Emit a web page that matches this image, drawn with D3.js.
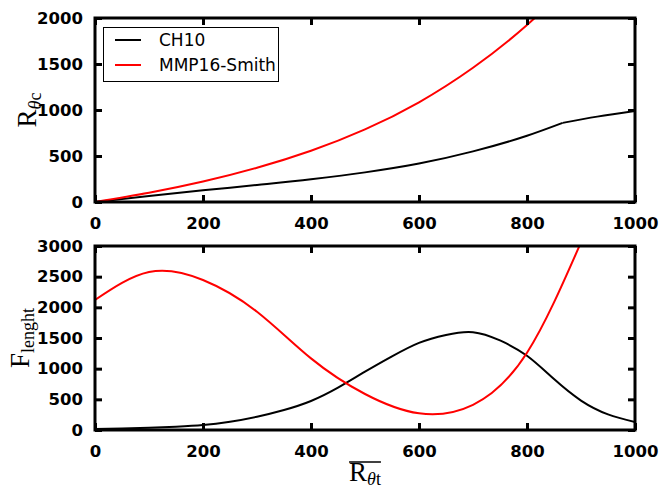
<!DOCTYPE html>
<html><head><meta charset="utf-8">
<script src="https://cdn.jsdelivr.net/npm/d3@7"></script>
<style>body{margin:0;background:#fff}svg{display:block}</style>
</head><body>
<script>
// ---- data ----
const xTicks = [0, 200, 400, 600, 800, 1000];
const topYTicks = [0, 500, 1000, 1500, 2000];
const botYTicks = [0, 500, 1000, 1500, 2000, 2500, 3000];
const seriesNames = ["CH10", "MMP16-Smith"];
const seriesColors = ["#000000", "#ff0000"];

// top panel: CH10 has a kink at x = 866 (index 9)
const topCH10X = [0, 100, 200, 300, 400, 500, 600, 700, 800, 866, 930, 1000];
const topCH10Y = [0, 65, 127, 185, 247, 322, 418, 550, 720, 860, 928, 990];
const topCH10Kink = 9;
const topMMPX = [0, 100, 200, 300, 400, 500, 600, 700, 800, 900];
const topMMPY = [0, 100, 222, 372, 557, 789, 1084, 1459, 1924, 2484];

const botCH10X = [0, 50, 100, 150, 200, 250, 300, 350, 400, 450, 500, 550, 600, 650, 700, 750, 800, 850, 900, 950, 1000];
const botCH10Y = [15, 25, 38, 55, 80, 135, 217, 326, 473, 690, 950, 1200, 1420, 1550, 1595, 1460, 1210, 830, 480, 255, 130];
const botMMPX = [0, 100, 200, 300, 400, 500, 600, 700, 800, 900];
const botMMPY = [2120, 2575, 2446, 1929, 1168, 587, 272, 410, 1260, 3060];

// ---- layout ----
const W = 662, H = 489;
const L = 95, R = 635;
const svg = d3.select("body").append("svg").attr("width", W).attr("height", H);

function panel(top, bottom, yMax, yTicks, series, id) {
  const x = d3.scaleLinear().domain([0, 1000]).range([L, R]);
  const y = d3.scaleLinear().domain([0, yMax]).range([bottom, top]);
  const g = svg.append("g");
  g.append("clipPath").attr("id", id).append("rect")
    .attr("x", L).attr("y", top).attr("width", R - L).attr("height", bottom - top);
  series.forEach(s => {
    const line = d3.line().x(d => x(d[0])).y(d => y(d[1])).curve(s.curve);
    s.parts.forEach(p => {
      g.append("path").attr("d", line(p)).attr("fill", "none")
        .attr("stroke", s.color).attr("stroke-width", 2)
        .attr("stroke-linejoin", "round")
        .attr("clip-path", `url(#${id})`);
    });
  });
  const tl = 7;
  const axB = d3.axisBottom(x).tickValues(xTicks).tickSize(-tl).tickPadding(8 + tl).tickFormat(d3.format("d"));
  const axT = d3.axisTop(x).tickValues(xTicks).tickSize(-tl).tickFormat("");
  const axL = d3.axisLeft(y).tickValues(yTicks).tickSize(-tl).tickPadding(5 + tl).tickFormat(d3.format("d"));
  const axR = d3.axisRight(y).tickValues(yTicks).tickSize(-tl).tickFormat("");
  [[axB, `translate(0,${bottom})`], [axT, `translate(0,${top})`], [axL, `translate(${L},0)`], [axR, `translate(${R},0)`]].forEach(([a, t]) => {
    const ag = g.append("g").attr("transform", t).call(a);
    ag.select(".domain").remove();
    ag.selectAll(".tick line").attr("stroke", "#000").attr("stroke-width", 3);
    ag.selectAll(".tick text").attr("font-family", "DejaVu Sans").attr("font-weight", "bold")
      .attr("font-size", 16.5).attr("fill", "#000");
  });
  g.append("rect").attr("x", L).attr("y", top).attr("width", R - L).attr("height", bottom - top)
    .attr("fill", "none").attr("stroke", "#000").attr("stroke-width", 3);
}

const zip = (a, b) => a.map((v, i) => [v, b[i]]);
const topCH10 = zip(topCH10X, topCH10Y);
panel(18, 202, 2000, topYTicks, [
  {color: seriesColors[0], curve: d3.curveMonotoneX,
   parts: [topCH10.slice(0, topCH10Kink + 1), topCH10.slice(topCH10Kink)]},
  {color: seriesColors[1], curve: d3.curveNatural, parts: [zip(topMMPX, topMMPY)]}
], "c1");
panel(246, 430, 3000, botYTicks, [
  {color: seriesColors[0], curve: d3.curveNatural, parts: [zip(botCH10X, botCH10Y)]},
  {color: seriesColors[1], curve: d3.curveNatural, parts: [zip(botMMPX, botMMPY)]}
], "c2");

// legend
const lg = svg.append("g");
lg.append("rect").attr("x", 103.5).attr("y", 27.5).attr("width", 175).attr("height", 54)
  .attr("fill", "#fff").attr("stroke", "#000").attr("stroke-width", 1);
seriesNames.forEach((n, i) => {
  const yy = 40 + i * 25;
  lg.append("line").attr("x1", 115).attr("x2", 141).attr("y1", yy).attr("y2", yy)
    .attr("stroke", seriesColors[i]).attr("stroke-width", 2);
  lg.append("text").attr("x", 159).attr("y", yy + 6).text(n)
    .attr("font-family", "DejaVu Sans").attr("font-size", 17).attr("fill", "#000");
});

// axis labels
const serif = "Liberation Serif";
function ylab(cx, cy, main, sub, italicFirst) {
  const t = svg.append("text").attr("transform", `translate(${cx},${cy}) rotate(-90)`)
    .attr("text-anchor", "middle").attr("font-family", serif).attr("font-size", 27).attr("fill", "#000");
  t.append("tspan").text(main);
  if (italicFirst) {
    t.append("tspan").attr("dy", 5).attr("font-size", 18).attr("font-style", "italic").text(sub[0]);
    t.append("tspan").attr("font-size", 18).text(sub.slice(1));
  } else {
    t.append("tspan").attr("dy", 5).attr("font-size", 18).text(sub);
  }
  return t;
}
ylab(36, 110, "R", "θc", true);
ylab(29, 338, "F", "lenght", false);

const xl = svg.append("text").attr("x", 365).attr("y", 481).attr("text-anchor", "middle")
  .attr("font-family", serif).attr("font-size", 27).attr("fill", "#000");
xl.append("tspan").text("R");
xl.append("tspan").attr("dy", 4).attr("font-size", 18).attr("font-style", "italic").text("θ");
xl.append("tspan").attr("font-size", 18).text("t");
const bb = xl.node().getBBox();
svg.append("line").attr("x1", bb.x).attr("x2", bb.x + bb.width).attr("y1", 462).attr("y2", 462)
  .attr("stroke", "#000").attr("stroke-width", 1.5);
</script>
</body></html>
